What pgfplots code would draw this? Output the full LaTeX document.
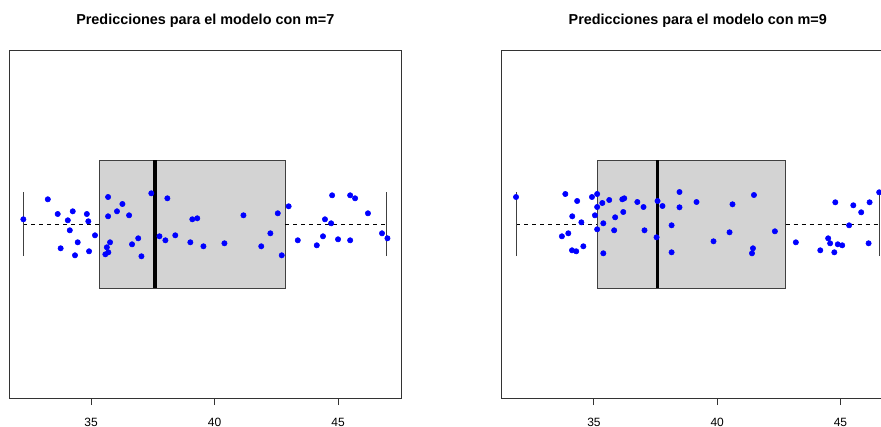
\documentclass[border=0pt]{standalone}
\usepackage{pgfplots}
\pgfplotsset{compat=1.18}
\usepackage{pgfplotstable}
\usepackage{fontspec}
\setmainfont{Liberation Sans}
\definecolor{boxgray}{RGB}{211,211,211}
\definecolor{ptblue}{RGB}{0,0,255}

\pgfplotstableread{
x y
32.26 4.7
33.25 24.7
33.65 10
34.26 12.7
34.06 3.7
34.83 10
34.89 2.7
34.14 -6.3
35.16 -11.3
34.46 -18.3
33.77 -24.3
34.35 -31.3
34.92 -27.3
35.69 27
36.27 20
36.05 12.7
36.54 8.7
35.69 7.7
35.77 -18.3
35.64 -23.3
35.70 -28.3
35.58 -30.3
36.91 -14.3
36.66 -20.3
37.04 -32.3
37.44 30.7
38.09 25.7
37.77 -12.3
38.01 -16.3
38.41 -11.3
39.10 4.7
39.30 5.7
39.02 -18.3
39.55 -22.3
40.40 -19.3
41.17 8.7
41.89 -22.3
42.26 -9.3
42.56 10.7
42.72 -31.3
43.00 17.7
43.37 -16.3
44.14 -21.3
44.39 -12.3
44.47 4.7
44.72 0.7
44.76 28.7
45.00 -15.3
45.49 -16.3
45.49 28.7
45.69 25.7
46.21 10.7
46.78 -9.3
47.00 -14.3
}\leftdata

\pgfplotstableread{
x y
31.84 27
33.84 30
34.32 23
34.92 27
35.13 30
35.34 21
35.62 24
36.15 24.7
36.23 25.7
36.76 22
37.01 17
37.58 23
37.78 18
38.47 32
38.47 16.7
39.16 22
35.13 17
35.04 8.7
34.12 7.7
34.49 1.7
35.38 0.7
35.86 6.7
36.19 12
35.13 -5.3
35.82 -6.3
37.05 -6.3
38.15 -1.3
33.96 -9.3
33.70 -12.3
37.54 -13.3
34.57 -22.3
34.11 -26.3
34.28 -27.3
35.38 -29.3
38.15 -28.3
40.62 19.7
41.49 29
40.50 -8.3
39.85 -17.3
42.34 -7.3
41.45 -24.3
41.41 -29.3
43.19 -18.3
44.79 21.7
45.52 18.7
46.18 21.7
45.84 11.7
46.57 31.7
45.35 -1.3
44.50 -14.3
44.58 -19.3
44.89 -20.3
45.07 -21.3
44.18 -26.3
44.75 -28.3
46.14 -19.3
}\rightdata

\pgfplotsset{
  rpanel/.style={
    scale only axis,
    width=294pt, height=261pt,
    ymin=-174, ymax=174,
    ytick=\empty,
    xtick={35,40,45},
    xtick pos=bottom,
    tick align=outside,
    major tick length=5.25pt,
    axis line style={black!80, line width=0.75pt},
    every tick/.style={black!80, line width=0.75pt},
    /pgf/number format/assume math mode=true,
    xticklabel style={font=\fontsize{9}{11}\selectfont, anchor=base, yshift=-15.8pt, inner sep=0pt},
    title style={font=\fontsize{10.8}{13}\selectfont\bfseries, at={(0.5,1)}, anchor=base, yshift=12.9pt, inner sep=0pt},
    clip=false,
  }
}

\begin{document}
\begin{tikzpicture}
\begin{axis}[rpanel, at={(7pt,21pt)}, anchor=south west,
  xmin=31.692, xmax=47.562,
  title={Predicciones para el modelo con m=7}]
  \addplot[fill=boxgray, draw=black!75, line width=0.75pt] coordinates {(35.36,-64) (42.86,-64) (42.86,64) (35.36,64)} -- cycle;
  \addplot[black, line width=2.3pt] coordinates {(37.59,-64) (37.59,64)};
  \addplot[black, line width=0.75pt, dash pattern=on 3pt off 3pt] coordinates {(32.25,0) (35.36,0)};
  \addplot[black, line width=0.75pt, dash pattern=on 3pt off 3pt] coordinates {(42.86,0) (46.98,0)};
  \addplot[black!75, line width=0.75pt] coordinates {(32.25,-32) (32.25,32)};
  \addplot[black!75, line width=0.75pt] coordinates {(46.98,-32) (46.98,32)};
  \addplot[only marks, mark=*, mark size=2pt, color=ptblue, mark options={fill=ptblue, draw=ptblue}] table[x=x,y=y] {\leftdata};
\end{axis}
\begin{axis}[rpanel, at={(376.3pt,21pt)}, anchor=south west,
  xmin=31.26, xmax=47.16,
  title={Predicciones para el modelo con m=9}]
  \addplot[fill=boxgray, draw=black!75, line width=0.75pt] coordinates {(35.13,-64) (42.77,-64) (42.77,64) (35.13,64)} -- cycle;
  \addplot[black, line width=2.3pt] coordinates {(37.56,-64) (37.56,64)};
  \addplot[black, line width=0.75pt, dash pattern=on 3pt off 3pt] coordinates {(31.85,0) (35.13,0)};
  \addplot[black, line width=0.75pt, dash pattern=on 3pt off 3pt] coordinates {(42.77,0) (46.58,0)};
  \addplot[black!75, line width=0.75pt] coordinates {(31.85,-32) (31.85,32)};
  \addplot[black!75, line width=0.75pt] coordinates {(46.58,-32) (46.58,32)};
  \addplot[only marks, mark=*, mark size=2pt, color=ptblue, mark options={fill=ptblue, draw=ptblue}] table[x=x,y=y] {\rightdata};
\end{axis}
\pgfresetboundingbox
\path[use as bounding box] (0,0) rectangle (660.75pt,319.5pt);
\end{tikzpicture}
\end{document}
